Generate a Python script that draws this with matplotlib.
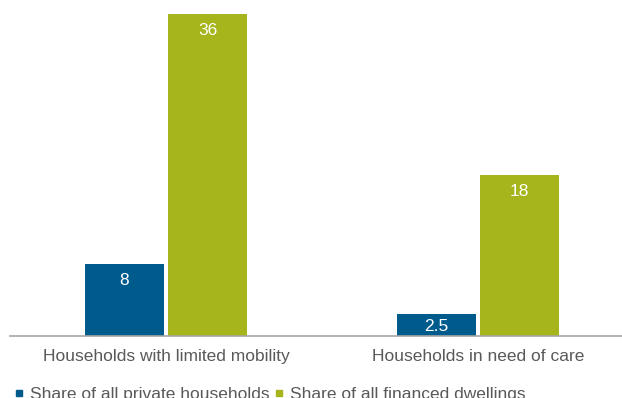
import numpy as np
import matplotlib.pyplot as plt
from matplotlib.lines import Line2D

plt.rcParams['font.family'] = ['Liberation Sans', 'DejaVu Sans']

categories = ["Households with limited mobility", "Households in need of care"]
series_names = ["Share of all private households", "Share of all financed dwellings"]
private_share = [8, 2.5]
financed_share = [36, 18]

BLUE = "#005b8d"
GREEN = "#a6b51c"
GRAY = "#595959"
FS = 12.5

W, H = 622, 398
fig = plt.figure(figsize=(W / 100, H / 100), dpi=100)
ax = fig.add_axes([10 / W, 1 - 336 / H, 1 - 10 / W, 336 / H])

x = np.arange(len(categories))
width = 0.253
off = 0.1335
b1 = ax.bar(x - off, private_share, width, color=BLUE, label=series_names[0])
b2 = ax.bar(x + off, financed_share, width, color=GREEN, label=series_names[1])

ax.set_xlim(-0.5, 1.4615)
ax.set_ylim(0, 336 / 8.958)

px_per_unit = 8.958
for bars, vals in ((b1, private_share), (b2, financed_share)):
    for rect, v in zip(bars, vals):
        cx = rect.get_x() + rect.get_width() / 2
        if v * px_per_unit < 30:
            ax.annotate(f"{v:g}", (cx, v / 2), xytext=(0, -1), textcoords="offset points",
                        ha="center", va="center", color="white", fontsize=FS)
        else:
            ax.annotate(f"{v:g}", (cx, v), xytext=(0, -6.5), textcoords="offset points",
                        ha="center", va="top", color="white", fontsize=FS)

for s in ("top", "right", "left"):
    ax.spines[s].set_visible(False)
ax.spines["bottom"].set_color("#a6a6a6")
ax.spines["bottom"].set_linewidth(1.2)
ax.set_yticks([])
ax.set_xticks(x)
ax.set_xticklabels(categories, fontsize=FS, color=GRAY)
ax.tick_params(axis="x", length=0, pad=9.5)

handles = [Line2D([], [], marker="s", linestyle="none", markersize=4, color=c)
           for c in (BLUE, GREEN)]
fig.legend(handles, series_names, loc="center left", bbox_to_anchor=(14 / W, 3.5 / H),
           ncol=2, frameon=False, fontsize=FS, labelcolor=GRAY,
           handlelength=0.6, handletextpad=0.35, columnspacing=0.2,
           borderpad=0, borderaxespad=0)

fig.savefig("out.png", dpi=100)
